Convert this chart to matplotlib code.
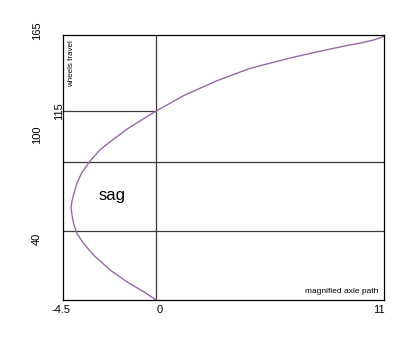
import matplotlib
matplotlib.use("Agg")
import matplotlib.pyplot as plt
import matplotlib.transforms as mtransforms

plt.rcParams['font.family'] = ['Liberation Sans', 'DejaVu Sans']

# axle path (x = magnified axle path, y = wheels travel)
path_x = [0, -0.61, -1.42, -2.22, -3.03, -3.51, -3.83, -3.99, -4.07, -4.11,
          -4.07, -3.99, -3.83, -3.59, -3.19, -2.71, -2.22, -1.42, -0.61, 0,
          1.32, 2.93, 4.54, 5.02, 5.83, 6.63, 7.44, 8.25, 9.05, 9.86, 10.5, 11.0]
path_y = [-3.1, 2.1, 8.3, 15.6, 25.0, 32.3, 38.5, 44.8, 50.5, 54.5,
          58.5, 62.5, 69.8, 76.5, 83.8, 90.8, 95.8, 103.6, 110.2, 115.0,
          124.6, 133.9, 141.7, 143.3, 146.0, 148.6, 151.0, 153.3, 155.5, 157.5,
          159.4, 161.6]

xlim = (-4.5, 11)
ylim = (-3.1, 162.5)

x_label_pos = [-4.61, 0.15, 10.75]
x_labels = ['-4.5', '0', '11']
y_label_pos = [165, 100, 35]
y_labels = ['165', '100', '40']
top_mark = 115          # upper reference (short line, label next to axis)
mid_level = 83.1        # middle horizontal line
low_level = 40          # lower horizontal line

fig = plt.figure(figsize=(4.2, 3.46), dpi=100)
ax = fig.add_axes([63/420, 1-300/346, (384-63)/420, (300-35)/346])
ax.set_xlim(*xlim)
ax.set_ylim(*ylim)
ax.set_xticks([])
ax.set_yticks([])
for s in ax.spines.values():
    s.set_linewidth(0.9)
    s.set_color('black')

line_col = '#3a3a3a'
ax.axvline(0, color=line_col, lw=0.9)
ax.hlines(top_mark, xlim[0], 0, color=line_col, lw=0.9)
ax.axhline(mid_level, color=line_col, lw=0.9)
ax.axhline(low_level, color=line_col, lw=0.9)

ax.plot(path_x, path_y, color='#9966AA', lw=1.0, solid_joinstyle='round')

tx = mtransforms.blended_transform_factory(ax.transData, ax.transAxes)
ty = mtransforms.blended_transform_factory(ax.transAxes, ax.transData)
for p, l in zip(x_label_pos, x_labels):
    ax.text(p, -0.0366, l, transform=tx, ha='center', va='center',
            fontsize=8, clip_on=False)
for p, l in zip(y_label_pos, y_labels):
    ax.text(-0.082, p, l, transform=ty, ha='center', va='center',
            rotation=90, fontsize=8, clip_on=False)
ax.text(-0.0125, top_mark, str(top_mark), transform=ty, ha='center',
        va='center', rotation=90, fontsize=8, clip_on=False)

ax.text(0.025, 0.981, 'wheels travel', transform=ax.transAxes, ha='center',
        va='top', rotation=90, fontsize=5.8)
ax.text(0.982, 0.033, 'magnified axle path', transform=ax.transAxes,
        ha='right', va='center', fontsize=6)
ax.text(0.152, 0.396, 'sag', transform=ax.transAxes, ha='center',
        va='center', fontsize=12)

fig.savefig('out.png', dpi=100)
